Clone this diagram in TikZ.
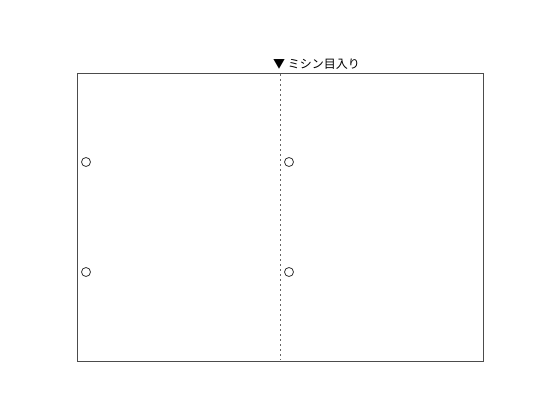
\documentclass[tikz,border=0pt]{standalone}
\usepackage{fontspec}
\newfontfamily\jp{Noto Sans CJK JP}
\begin{document}
\begin{tikzpicture}[x=1pt,y=-1pt,
  sheet/.style={draw=black!70,line width=1.3pt},
  perf/.style={draw=black!60,line width=1pt,dash pattern=on 2pt off 3pt},
  hole/.style={circle,draw=black!80,line width=0.8pt,minimum size=9pt,inner sep=0pt},
  lbl/.style={font=\jp\fontsize{12}{13}\selectfont,inner sep=0pt,anchor=west}]
\useasboundingbox (0,0) rectangle (560,420);
\node[sheet,minimum width=406pt,minimum height=288pt,inner sep=0pt,anchor=north west] (s) at (77,73) {};
\coordinate (pt) at (280,74);
\coordinate (pb) at (280,360);
\draw[perf] (pt) -- (pb);
\node[hole] (h1) at (86,162) {};
\node[hole] (h2) at (86,272) {};
\node[hole] (h3) at (289,162) {};
\node[hole] (h4) at (289,272) {};
\node[lbl] (t) at (273,64) {▼ ミシン目入り};
\end{tikzpicture}
\end{document}
